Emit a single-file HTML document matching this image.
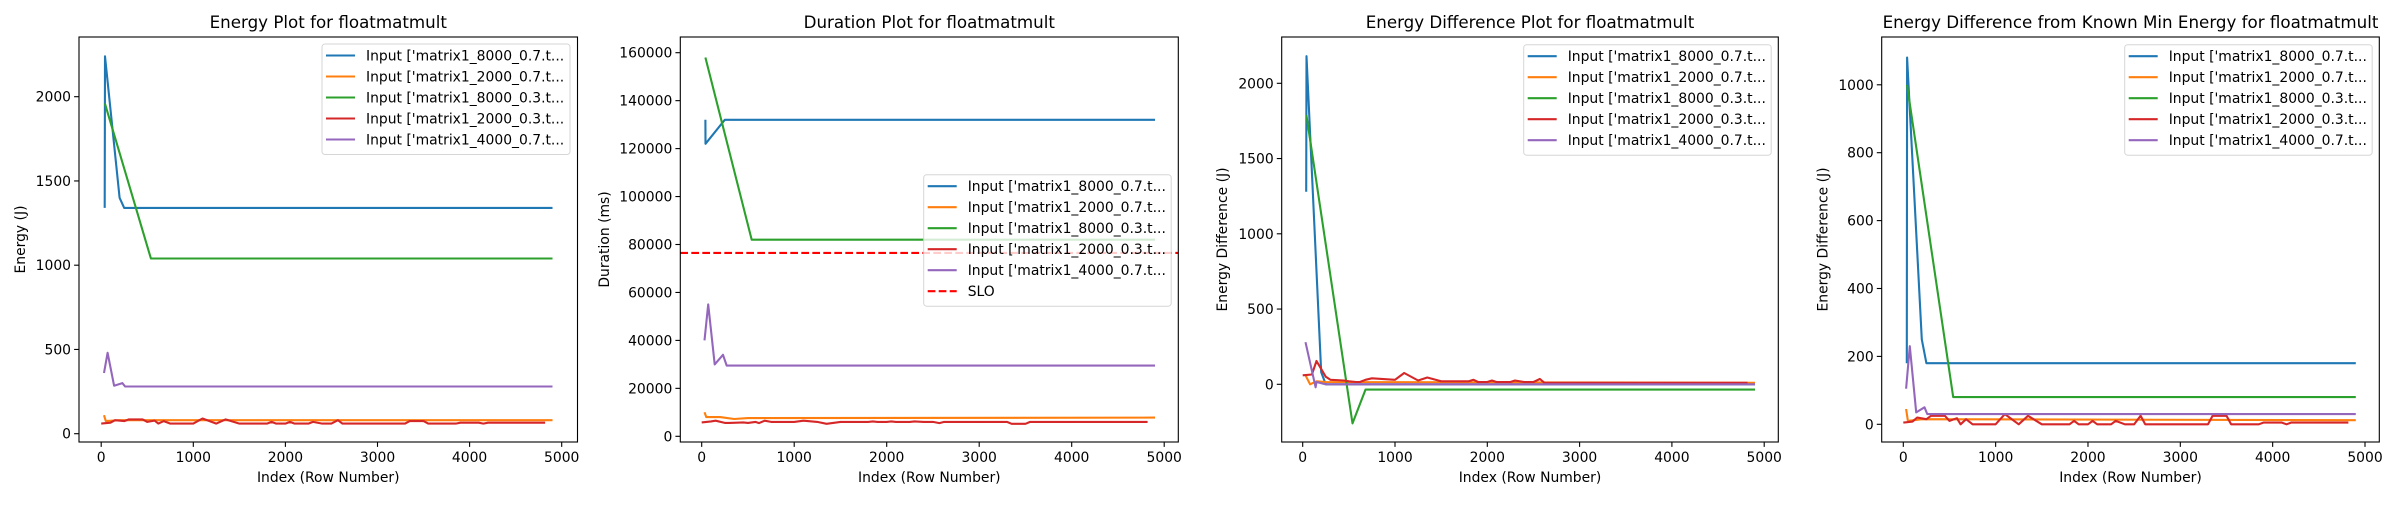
<!DOCTYPE html>
<html><head><meta charset="utf-8"><style>
body{margin:0;background:#fff;}
svg text{font-family:"DejaVu Sans","Liberation Sans",sans-serif;fill:#000;}
</style></head><body>
<svg id="chart" width="2400" height="500" xmlns="http://www.w3.org/2000/svg"></svg>
<script>
// ---- data ----
const seriesNames=["Input ['matrix1_8000_0.7.t...","Input ['matrix1_2000_0.7.t...","Input ['matrix1_8000_0.3.t...","Input ['matrix1_2000_0.3.t...","Input ['matrix1_4000_0.7.t..."];
const colors=["#1f77b4","#ff7f0e","#2ca02c","#d62728","#9467bd"];
const xTicks=[0,1000,2000,3000,4000,5000];
const redX=[0,100,150,250,300,450,500,580,620,680,750,1000,1100,1250,1350,1500,1800,1850,1900,2000,2050,2100,2250,2300,2400,2500,2570,2620,3300,3350,3500,3550,3850,3900,4100,4150,4200,4820];

// Panel 1: Energy
const p1BlueX=[38,41,200,250,4900], p1BlueY=[1340,2240,1400,1340,1340];
const p1OrangeX=[30,50,200,4900], p1OrangeY=[110,75,80,80];
const p1GreenX=[40,540,4900], p1GreenY=[1960,1040,1040];
const p1RedY=[60,65,80,75,85,85,70,78,60,75,60,60,90,60,85,60,60,70,60,60,70,60,60,70,60,60,80,60,60,75,75,60,60,65,65,60,65,65];
const p1PurpleX=[30,70,140,230,260,4900], p1PurpleY=[360,480,285,300,280,280];
const p1YTicks=[0,500,1000,1500,2000];

// Panel 2: Duration
const p2BlueX=[40,41,250,4900], p2BlueY=[132000,122000,132000,132000];
const p2OrangeX=[30,50,200,350,500,4900], p2OrangeY=[10000,8000,8000,7200,7600,7800];
const p2GreenX=[40,540,4900], p2GreenY=[158000,82000,82000];
const p2RedY=[5800,6200,6500,5600,5600,5800,5600,6000,5500,6500,6000,6000,6500,6000,5200,6000,6000,6200,6000,6000,6200,6000,6000,6200,6000,6000,5500,6000,6000,5200,5200,6000,6000,6000,6000,6000,6000,6000];
const p2PurpleX=[30,70,140,230,270,4900], p2PurpleY=[40000,55000,30000,34000,29500,29500];
const p2SLO=76500;
const p2YTicks=[0,20000,40000,60000,80000,100000,120000,140000,160000];

// Panel 3: Energy difference
const p3BlueX=[38,41,200,250,4900], p3BlueY=[1280,2180,80,0,0];
const p3OrangeX=[30,80,150,250,4900], p3OrangeY=[60,0,20,15,10];
const p3GreenX=[40,540,680,4900], p3GreenY=[1790,-260,-35,-35];
const p3RedY=[60,65,155,50,30,25,20,15,15,30,40,30,75,25,45,20,20,30,15,15,25,15,15,25,15,15,35,10,10,10,10,10,10,10,10,10,10,10];
const p3PurpleX=[30,140,150,250,4900], p3PurpleY=[280,-20,15,0,0];
const p3YTicks=[0,500,1000,1500,2000];

// Panel 4: Difference from known min
const p4BlueX=[38,41,200,250,4900], p4BlueY=[180,1080,250,180,180];
const p4OrangeX=[30,50,200,4900], p4OrangeY=[45,10,15,12];
const p4GreenX=[40,540,4900], p4GreenY=[1000,80,80];
const p4RedY=[5,8,20,15,25,25,10,18,0,15,0,0,30,0,25,0,0,10,0,0,10,0,0,10,0,0,25,0,0,25,25,0,0,5,5,0,5,5];
const p4PurpleX=[30,70,140,230,260,4900], p4PurpleY=[105,230,35,50,30,30];
const p4YTicks=[0,200,400,600,800,1000];

// ---- layout ----
const NS="http://www.w3.org/2000/svg";
const svg=document.getElementById('chart');
function mk(tag,attrs,parent){const e=document.createElementNS(NS,tag);for(const k in attrs)e.setAttribute(k,attrs[k]);(parent||svg).appendChild(e);return e;}

const panels=[
 {title:"Energy Plot for floatmatmult",ylabel:"Energy (J)",L:79,R:577.5,T:37,B:442,x0:101.2,xs:0.0921,y0:433.7,ys:84.25/500,yLabX:20,yTicks:p1YTicks,
  series:[[p1BlueX,p1BlueY],[p1OrangeX,p1OrangeY],[p1GreenX,p1GreenY],[redX,p1RedY],[p1PurpleX,p1PurpleY]],legend:{x:322,y:44,w:248}},
 {title:"Duration Plot for floatmatmult",ylabel:"Duration (ms)",L:680.3,R:1178.3,T:37,B:442,x0:701.7,xs:0.0925,y0:436.3,ys:47.95/20000,yLabX:604,yTicks:p2YTicks,
  series:[[p2BlueX,p2BlueY],[p2OrangeX,p2OrangeY],[p2GreenX,p2GreenY],[redX,p2RedY],[p2PurpleX,p2PurpleY]],slo:p2SLO,legend:{x:923.7,y:174.7,w:247.5}},
 {title:"Energy Difference Plot for floatmatmult",ylabel:"Energy Difference (J)",L:1281.7,R:1778.3,T:37,B:442,x0:1302.7,xs:0.0923,y0:384.3,ys:75.25/500,yLabX:1222,yTicks:p3YTicks,
  series:[[p3BlueX,p3BlueY],[p3OrangeX,p3OrangeY],[p3GreenX,p3GreenY],[redX,p3RedY],[p3PurpleX,p3PurpleY]],legend:{x:1523.7,y:44.7,w:247.5}},
 {title:"Energy Difference from Known Min Energy for floatmatmult",ylabel:"Energy Difference (J)",L:1881.7,R:2379.3,T:37,B:442,x0:1903.3,xs:0.09234,y0:424.3,ys:67.9/200,yLabX:1822.7,yTicks:p4YTicks,
  series:[[p4BlueX,p4BlueY],[p4OrangeX,p4OrangeY],[p4GreenX,p4GreenY],[redX,p4RedY],[p4PurpleX,p4PurpleY]],legend:{x:2124.7,y:44.7,w:247.5}}
];

panels.forEach((p,pi)=>{
  const g=mk('g',{});
  
  
  const X=v=>p.x0+v*p.xs, Y=v=>p.y0-v*p.ys;
  const clipId='clip'+pi;
  const cp=mk('clipPath',{id:clipId},g);mk('rect',{x:p.L,y:p.T,width:p.R-p.L,height:p.B-p.T},cp);
  const t=mk('text',{x:(p.L+p.R)/2,y:28,'text-anchor':'middle','font-size':'16.7'},g);t.textContent=p.title;
  
  
  xTicks.forEach(v=>{
    mk('line',{x1:X(v),x2:X(v),y1:p.B,y2:p.B+4.9,stroke:'#000','stroke-width':1.1},g);
    const tt=mk('text',{x:X(v),y:p.B+20,'text-anchor':'middle','font-size':'13.9'},g);tt.textContent=v;
    
    
  });
  p.yTicks.forEach(v=>{
    mk('line',{x1:p.L-4.9,x2:p.L,y1:Y(v),y2:Y(v),stroke:'#000','stroke-width':1.1},g);
    const tt=mk('text',{x:p.L-8,y:Y(v)+5,'text-anchor':'end','font-size':'13.9'},g);tt.textContent=v;
    
    
  });
  const xl=mk('text',{x:(p.L+p.R)/2,y:482,'text-anchor':'middle','font-size':'13.9'},g);xl.textContent="Index (Row Number)";
  
  
  const yl=mk('text',{x:0,y:0,'text-anchor':'middle','font-size':'13.9',transform:`translate(${p.yLabX+5},${(p.T+p.B)/2}) rotate(-90)`},g);yl.textContent=p.ylabel;
  
  
  const dg=mk('g',{'clip-path':`url(#${clipId})`},g);
  p.series.forEach((s,si)=>{
    const pts=s[0].map((x,i)=>X(x).toFixed(1)+','+Y(s[1][i]).toFixed(1)).join(' ');
    const pl=mk('polyline',{points:pts,fill:'none',stroke:colors[si],'stroke-width':2.1,'stroke-linejoin':'round'},dg);
    
    
  });
  if(p.slo!==undefined){
    const sl=mk('line',{x1:p.L,x2:p.R,y1:Y(p.slo),y2:Y(p.slo),stroke:'#ff0000','stroke-width':2.1,'stroke-dasharray':'7.7,3.3'},dg);
    
    
  }
  mk('rect',{x:p.L,y:p.T,width:p.R-p.L,height:p.B-p.T,fill:'none',stroke:'#000','stroke-width':1.1},g);
  const n=seriesNames.length+(p.slo!==undefined?1:0);
  const lg=mk('g',{},g);
  
  
  mk('rect',{x:p.legend.x,y:p.legend.y,width:p.legend.w,height:n*21+5.5,rx:3,fill:'#fff','fill-opacity':0.8,stroke:'#d6d6d6','stroke-width':1},lg);
  for(let i=0;i<n;i++){
    const yy=p.legend.y+11.5+i*21;
    const isSlo=i===seriesNames.length;
    mk('line',{x1:p.legend.x+4,x2:p.legend.x+33,y1:yy,y2:yy,stroke:isSlo?'#ff0000':colors[i],'stroke-width':2.1,'stroke-dasharray':isSlo?'7.7,3.3':'none'},lg);
    const lt=mk('text',{x:p.legend.x+44,y:yy+5,'font-size':'13.9'},lg);lt.textContent=isSlo?'SLO':seriesNames[i];
    
    
  }
});
</script>
</body></html>
